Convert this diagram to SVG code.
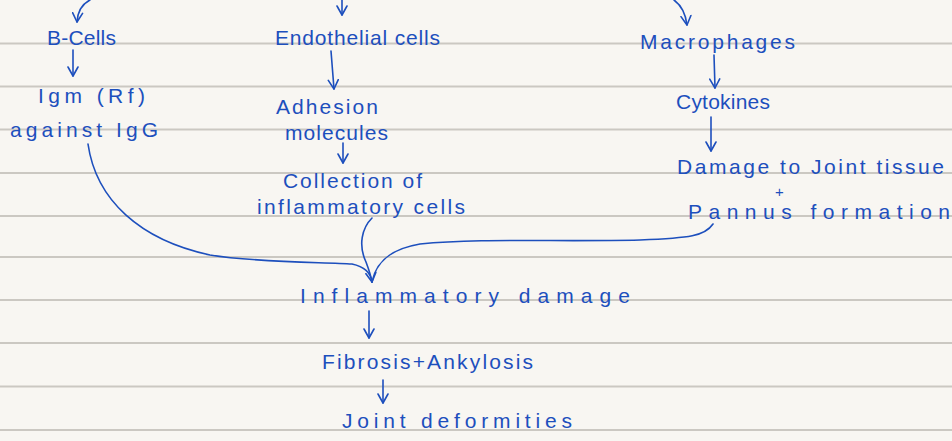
<svg xmlns="http://www.w3.org/2000/svg" width="952" height="441" viewBox="0 0 952 441">
<style>
.rule{stroke:#cbc8c2;stroke-width:2}
.t{font-family:"Liberation Sans",Arial,sans-serif;font-size:21px;fill:#1d4fbd}
.c{fill:none;stroke:#1d4fbd;stroke-width:1.6;stroke-linecap:round;stroke-linejoin:round}
</style>
<defs>
<marker id="ah" viewBox="0 0 12 12" refX="10" refY="6" markerWidth="12" markerHeight="12" markerUnits="userSpaceOnUse" orient="auto">
<path d="M1,1 L10,6 L1,11" fill="none" stroke="#1d4fbd" stroke-width="1.6" stroke-linecap="round" stroke-linejoin="round"/>
</marker>
</defs>
<rect width="952" height="441" fill="#f8f6f2"/>
<g id="paper">
<line class="rule" x1="0" y1="43.5" x2="952" y2="43.5"/>
<line class="rule" x1="0" y1="86.5" x2="952" y2="86.5"/>
<line class="rule" x1="0" y1="129.5" x2="952" y2="129.5"/>
<line class="rule" x1="0" y1="173" x2="952" y2="173"/>
<line class="rule" x1="0" y1="216" x2="952" y2="216"/>
<line class="rule" x1="0" y1="257" x2="952" y2="257"/>
<line class="rule" x1="0" y1="300" x2="952" y2="300"/>
<line class="rule" x1="0" y1="343" x2="952" y2="343"/>
<line class="rule" x1="0" y1="386.5" x2="952" y2="386.5"/>
<line class="rule" x1="0" y1="430" x2="952" y2="430"/>
</g>
<g id="connectors">
<path class="c" d="M90,0 Q78,6 77,22" marker-end="url(#ah)"/>
<path class="c" d="M342,0 L342,15" marker-end="url(#ah)"/>
<path class="c" d="M674,0 Q685,8 687,25" marker-end="url(#ah)"/>
<path class="c" d="M73,50 L73,76" marker-end="url(#ah)"/>
<path class="c" d="M331,51 L334,89" marker-end="url(#ah)"/>
<path class="c" d="M343,143 L343,163" marker-end="url(#ah)"/>
<path class="c" d="M714,55 L715,88" marker-end="url(#ah)"/>
<path class="c" d="M711,117 L711,151" marker-end="url(#ah)"/>
<path class="c" d="M88,144 C96,200 140,240 210,255 C260,263 325,262 352,264 C366,267 371,274 372,282" marker-end="url(#ah)"/>
<path class="c" d="M372,218 C362,228 358,245 366,262 C369,270 371,276 372,282"/>
<path class="c" d="M713,224 C705,236 690,238 640,240 C560,242 480,238 420,244 C390,249 376,262 372,282"/>
<path class="c" d="M369,311 L369,338" marker-end="url(#ah)"/>
<path class="c" d="M383,380 L383,403" marker-end="url(#ah)"/>
</g>
<g id="b-cells"><text class="t" x="47" y="45" textLength="69">B-Cells</text></g>
<g id="igm"><text class="t" x="38" y="103" textLength="107">Igm (Rf)</text>
<text class="t" x="10" y="137" textLength="148">against IgG</text></g>
<g id="endothelial"><text class="t" x="275" y="45" textLength="165">Endothelial cells</text></g>
<g id="adhesion"><text class="t" x="276" y="114" textLength="102">Adhesion</text>
<text class="t" x="285" y="140" textLength="103">molecules</text></g>
<g id="collection"><text class="t" x="283" y="188" textLength="139">Collection of</text>
<text class="t" x="257" y="214" textLength="208">inflammatory cells</text></g>
<g id="macrophages"><text class="t" x="640" y="49" textLength="155">Macrophages</text></g>
<g id="cytokines"><text class="t" x="676" y="109" textLength="94">Cytokines</text></g>
<g id="damage"><text class="t" x="677" y="174" textLength="267">Damage to Joint tissue</text>
<text class="t" x="775" y="197" style="font-size:15px">+</text>
<text class="t" x="688" y="219" textLength="262">Pannus formation</text></g>
<g id="inflammatory-damage"><text class="t" x="300" y="303" textLength="330">Inflammatory damage</text></g>
<g id="fibrosis"><text class="t" x="322" y="369" textLength="211">Fibrosis+Ankylosis</text></g>
<g id="deformities"><text class="t" x="342" y="428" textLength="230">Joint deformities</text></g>
</svg>
